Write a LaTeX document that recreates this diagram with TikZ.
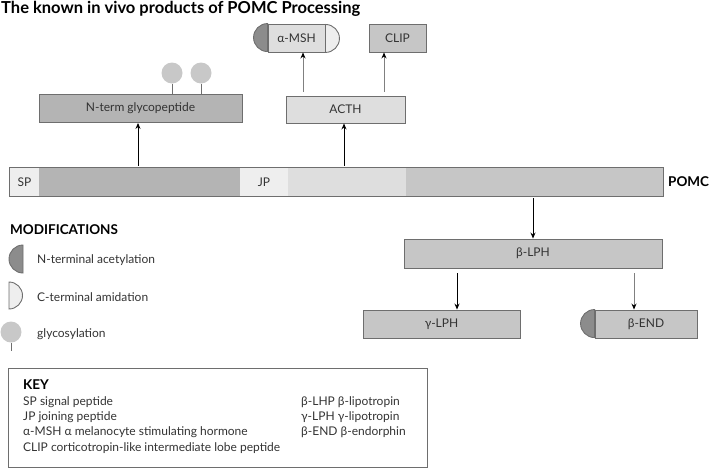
\documentclass[tikz,border=0pt]{standalone}
\usepackage{fontspec}
\setmainfont{Lato}
\usetikzlibrary{arrows.meta}
\definecolor{edge}{HTML}{6E6E6E}
\definecolor{dark}{HTML}{B4B4B4}
\definecolor{mid}{HTML}{C6C6C6}
\definecolor{light}{HTML}{DEDEDE}
\definecolor{pale}{HTML}{EEEEEE}
\definecolor{capdark}{HTML}{8C8C8C}
\definecolor{sugar}{HTML}{C8C8C8}
\begin{document}
\begin{tikzpicture}[x=1pt,y=-1pt,
    peptide/.style ={rectangle, draw=edge, line width=0.9pt, inner sep=0pt, minimum height=28pt, font=\fontsize{12}{14}\selectfont, text=black!80},
    segment/.style ={rectangle, inner sep=0pt, minimum height=28pt, font=\fontsize{12}{14}\selectfont, text=black!80},
    ncap/.style ={fill=capdark, draw=edge, line width=0.9pt},
    ccap/.style ={fill=pale, draw=edge, line width=0.9pt},
    sugarball/.style ={circle, fill=sugar, inner sep=0pt, minimum size=21pt},
    cut/.style ={line width=0.8pt, -{Stealth[length=6pt,width=5pt,black]}},
    heading/.style ={font=\fontsize{13.5}{15}\selectfont\bfseries, anchor=west, inner sep=0pt},
    keytext/.style ={font=\fontsize{12}{14}\selectfont, text=black!80, anchor=west, inner sep=0pt}]
   \useasboundingbox (0,0) rectangle (711,469);
   % title
   \node[heading, font=\fontsize{16.5}{18}\selectfont\bfseries] (title) at (1,9) {The known in vivo products of POMC Processing};
   % POMC precursor
   \node[segment, fill=pale, minimum width=29pt] (sp) at (24.5,182) {SP};
   \node[segment, fill=dark, minimum width=201pt] (ntseg) at (139.5,182) {};
   \node[segment, fill=pale, minimum width=48pt] (jp) at (264,182) {JP};
   \node[segment, fill=light, minimum width=118pt] (acthseg) at (347,182) {};
   \node[segment, fill=mid, minimum width=257pt] (lphseg) at (534.5,182) {};
   \draw[edge, line width=0.9pt] (sp.north west) rectangle (lphseg.south east);
   \node[heading] (pomc) at (668,182) {POMC};
   % products
   \node[peptide, fill=dark, minimum width=203pt] (nterm) at (140.5,108.5) {N-term glycopeptide};
   \node[sugarball] (sugarA) at (172,73) {};
   \node[sugarball] (sugarB) at (201,73) {};
   \draw[edge, line width=0.8pt] (sugarA.south) -- (sugarA.south |- nterm.north);
   \draw[edge, line width=0.8pt] (sugarB.south) -- (sugarB.south |- nterm.north);
   \node[peptide, fill=light, minimum width=119pt, minimum height=27pt] (acth) at (345.5,109.5) {ACTH};
   \node[peptide, fill=light, minimum width=57pt] (amsh) at (296.5,38) {α-MSH};
   \filldraw[ncap] (amsh.north west) arc (270:90:14) -- cycle;
   \filldraw[ccap] (amsh.south east) arc (90:-90:14) -- cycle;
   \node[peptide, fill=mid, minimum width=57pt] (clip) at (397.5,38) {CLIP};
   \node[peptide, fill=mid, minimum width=258pt, minimum height=29pt] (blph) at (533,253.5) {β-LPH};
   \node[peptide, fill=mid, minimum width=157pt] (glph) at (441.5,324) {γ-LPH};
   \node[peptide, fill=mid, minimum width=102pt] (bend) at (646,324) {β-END};
   \filldraw[ncap] (bend.north west) arc (270:90:14) -- cycle;
   % cleavages
   \draw[cut] (ntseg.north) ++(-1.5,-2) coordinate (c1) -- (c1 |- nterm.south);
   \draw[cut] (acthseg.north) ++(-3,-2) coordinate (c2) -- (c2 |- acth.south);
   \draw[cut, draw=black!50] (acth.north) ++(-42.5,-4) coordinate (c3) -- (c3 |- amsh.south);
   \draw[cut, draw=black!50] (acth.north) ++(38.5,-4) coordinate (c4) -- (c4 |- clip.south);
   \draw[cut] (blph.north |- lphseg.south) ++(0,2) -- (blph.north);
   \draw[cut] (blph.south) ++(-76,5) coordinate (c5) -- (c5 |- glph.north);
   \draw[cut, draw=black!50] (blph.south) ++(101,5) coordinate (c6) -- (c6 |- bend.north);
   % modifications legend
   \node[heading] (mods) at (10,230) {MODIFICATIONS};
   \coordinate (nmod) at (23,259);
   \filldraw[ncap] (nmod) ++(0,-14) arc (270:90:14) -- cycle;
   \node[keytext] (nmodtext) at (37,260) {N-terminal acetylation};
   \coordinate (cmod) at (9,295.5);
   \filldraw[ccap] (cmod) ++(0,13.5) arc (90:-90:13.5) -- cycle;
   \node[keytext] (cmodtext) at (37,297) {C-terminal amidation};
   \node[sugarball] (gmod) at (11,332) {};
   \draw[edge, line width=0.8pt] (gmod.south) -- ++(0,8);
   \node[keytext] (gmodtext) at (37,334) {glycosylation};
   % key
   \draw[edge, line width=0.9pt] (8,368) rectangle (427,467);
   \node[heading] (key) at (23,385) {KEY};
   \node[keytext] (k1) at (23,402) {SP signal peptide};
   \node[keytext] (k2) at (23,417) {JP joining peptide};
   \node[keytext] (k3) at (23,432) {α-MSH α melanocyte stimulating hormone};
   \node[keytext] (k4) at (23,448) {CLIP corticotropin-like intermediate lobe peptide};
   \node[keytext] (k5) at (301,402) {β-LHP β-lipotropin};
   \node[keytext] (k6) at (301,417) {γ-LPH γ-lipotropin};
   \node[keytext] (k7) at (301,432) {β-END β-endorphin};
 \end{tikzpicture}
\end{document}
